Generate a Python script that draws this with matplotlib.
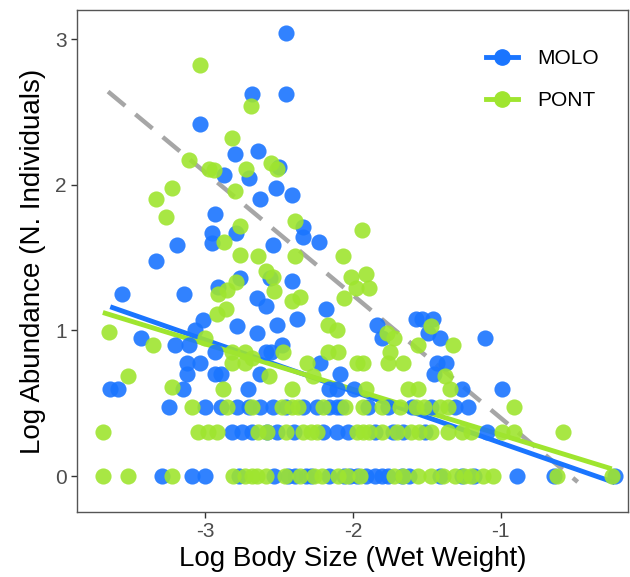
import numpy as np
import matplotlib
matplotlib.use("Agg")
import matplotlib.pyplot as plt
from matplotlib.lines import Line2D

plt.rcParams["font.family"] = ["Liberation Sans", "DejaVu Sans"]
plt.rcParams["axes.unicode_minus"] = False

# MOLO points (log body size, log abundance)
molo_x = [-2.45, -2.45, -2.68, -3.03, -2.80, -2.64, -2.50, -2.87, -2.70, -2.52,
          -2.41, -2.63, -2.93, -2.95, -2.95, -2.79, -2.34, -2.34, -2.23, -2.54,
          -3.19, -3.33, -3.56, -3.14, -2.91, -2.76, -2.65, -2.59, -3.01, -3.07,
          -3.43, -3.20, -3.11, -2.78, -2.65, -2.93, -3.12, -3.03, -2.59, -2.55,
          -3.64, -3.59, -3.12, -3.15, -2.93, -2.89, -2.71, -2.51, -2.48, -2.63,
          -2.56, -2.41, -2.38, -2.18, -2.22, -2.09, -2.16, -2.11, -1.99, -1.84,
          -1.80, -1.57, -1.53, -1.46, -1.49, -1.41, -1.43, -1.37, -1.45, -1.11,
          -1.26, -0.99,
          -3.24, -3.00, -2.89, -2.78, -2.63, -2.54, -2.34, -2.24, -2.16, -2.11,
          -2.08, -1.76, -1.60, -1.47, -1.31, -1.22, -2.70, -2.45, -1.90,
          -2.82, -2.75, -2.68, -2.51, -2.20, -2.11, -2.03, -1.73, -1.51, -1.09,
          -2.58, -2.40, -1.85, -1.66,
          -3.29, -3.09, -3.00, -2.53, -2.39, -2.32, -2.16, -2.02, -1.97, -1.91,
          -1.85, -1.80, -1.76, -1.67, -1.26, -0.89, -0.64, -0.23, -2.77, -2.44,
          -2.28, -2.06, -1.62, -1.41, -1.18]
molo_y = [3.04, 2.62, 2.62, 2.42, 2.21, 2.23, 2.12, 2.07, 2.05, 1.98,
          1.93, 1.90, 1.80, 1.67, 1.60, 1.67, 1.71, 1.64, 1.61, 1.59,
          1.59, 1.48, 1.25, 1.25, 1.30, 1.36, 1.22, 1.17, 1.07, 1.00,
          0.95, 0.90, 0.90, 1.03, 0.98, 0.85, 0.78, 0.78, 0.85, 0.85,
          0.60, 0.60, 0.70, 0.60, 0.70, 0.70, 0.60, 1.04, 0.90, 0.70,
          1.36, 1.34, 1.08, 1.15, 0.78, 0.70, 0.60, 0.60, 0.60, 1.04,
          0.95, 1.08, 1.08, 1.08, 0.98, 0.95, 0.78, 0.78, 0.70, 0.95,
          0.60, 0.60,
          0.477, 0.477, 0.477, 0.477, 0.477, 0.477, 0.477, 0.477, 0.477, 0.477,
          0.477, 0.477, 0.477, 0.477, 0.477, 0.477, 0.477, 0.477, 0.477,
          0.301, 0.301, 0.301, 0.301, 0.301, 0.301, 0.301, 0.301, 0.301, 0.301,
          0.301, 0.301, 0.301, 0.301,
          0, 0, 0, 0, 0, 0, 0, 0, 0, 0,
          0, 0, 0, 0, 0, 0, 0, 0, 0, 0,
          0, 0, 0, 0, 0]

# PONT points
pont_x = [-3.03, -2.69, -2.82, -3.11, -2.97, -2.94, -2.72, -2.55, -2.51, -2.80,
          -3.22, -3.33, -3.26, -2.39, -2.76, -2.87, -2.76, -2.64, -2.39, -2.07,
          -1.94, -2.59, -2.54, -2.53, -2.41, -2.36, -2.01, -1.91, -1.98, -1.89,
          -2.06, -3.65, -3.52, -3.35, -3.22, -3.00, -2.92, -2.86, -2.91, -2.85,
          -2.79, -2.82, -2.73, -2.82, -2.73, -2.68, -2.57, -2.47, -2.41, -2.31,
          -2.27, -2.17, -2.11, -2.17, -2.10, -1.97, -1.93, -2.88, -1.77, -1.72,
          -1.56, -1.47, -1.75, -1.76, -1.66, -1.32, -1.38, -1.91, -1.63, -1.56,
          -1.34,
          -3.09, -2.68, -2.48, -2.41, -2.37, -2.05, -1.93, -1.68, -1.57, -1.41,
          -1.36, -0.91, -2.85, -2.20, -1.80, -1.52,
          -3.69, -3.05, -2.98, -2.92, -2.58, -2.45, -2.28, -1.97, -1.93, -1.89,
          -1.80, -1.61, -1.55, -1.47, -1.36, -1.20, -0.99, -0.91, -0.58, -2.64,
          -2.34, -2.24, -1.70, -1.26,
          -3.69, -3.52, -3.22, -2.81, -2.73, -2.65, -2.59, -2.46, -2.26, -2.21,
          -2.10, -1.56, -1.47, -1.39, -1.31, -1.12, -1.05, -0.62, -0.25, -2.68,
          -2.36, -2.04, -1.95, -1.72, -1.66, -1.25, -1.20]
pont_y = [2.82, 2.54, 2.32, 2.17, 2.11, 2.10, 2.11, 2.15, 2.11, 1.96,
          1.98, 1.90, 1.78, 1.75, 1.72, 1.61, 1.52, 1.51, 1.51, 1.51,
          1.69, 1.41, 1.37, 1.27, 1.20, 1.23, 1.37, 1.39, 1.29, 1.29,
          1.22, 0.99, 0.69, 0.90, 0.61, 0.95, 1.11, 1.15, 1.25, 1.28,
          1.33, 0.85, 0.85, 0.78, 0.78, 0.81, 0.69, 0.85, 0.60, 0.78,
          0.69, 1.04, 1.00, 0.85, 0.85, 0.78, 0.78, 0.60, 0.98, 0.95,
          0.90, 1.03, 0.85, 0.78, 0.78, 0.90, 0.69, 0.60, 0.60, 0.60,
          0.60,
          0.477, 0.477, 0.477, 0.477, 0.477, 0.477, 0.477, 0.477, 0.477, 0.477,
          0.477, 0.477, 0.477, 0.477, 0.477, 0.477,
          0.301, 0.301, 0.301, 0.301, 0.301, 0.301, 0.301, 0.301, 0.301, 0.301,
          0.301, 0.301, 0.301, 0.301, 0.301, 0.301, 0.301, 0.301, 0.301, 0.301,
          0.301, 0.301, 0.301, 0.301,
          0, 0, 0, 0, 0, 0, 0, 0, 0, 0,
          0, 0, 0, 0, 0, 0, 0, 0, 0, 0,
          0, 0, 0, 0, 0, 0, 0]

# fitted lines: intercept, slope
molo_fit = [-0.126, -0.354]
pont_fit = [-0.028, -0.312]
ref_fit = [-0.445, -0.844]
ref_range = [-3.655, -0.48]

molo_col = "#1a75ff"
pont_col = "#9fe52f"

fig = plt.figure(figsize=(6.3, 5.77), dpi=100)
ax = fig.add_axes([0.1222, 0.1127, 0.8746, 0.870])

# grey reference line
xr = np.array(ref_range)
ax.plot(xr, ref_fit[0] + ref_fit[1] * xr, color="#a6a6a6", lw=3.2,
        dashes=(5, 3), zorder=1)

# regression lines over each data range
for xs, fit, col in [(molo_x, molo_fit, molo_col), (pont_x, pont_fit, pont_col)]:
    xl = np.array([min(xs), max(xs)])
    ax.plot(xl, fit[0] + fit[1] * xl, color=col, lw=3.5, zorder=2,
            solid_capstyle="butt")

ax.scatter(molo_x, molo_y, s=135, color=molo_col, alpha=0.9, lw=0, zorder=3)
ax.scatter(pont_x, pont_y, s=135, color=pont_col, alpha=0.9, lw=0, zorder=3)

ax.set_xlim(-3.865, -0.14)
ax.set_ylim(-0.246, 3.2)
ax.set_xticks([-3, -2, -1])
ax.set_yticks([0, 1, 2, 3])
ax.tick_params(labelsize=15, labelcolor="#4d4d4d", color="#333333",
               length=4, width=1)
for sp in ax.spines.values():
    sp.set_color("#555555")
    sp.set_linewidth(1)

ax.set_xlabel("Log Body Size (Wet Weight)", fontsize=20, labelpad=3)
ax.set_ylabel("Log Abundance (N. Individuals)", fontsize=20, labelpad=6)

handles = [Line2D([], [], color=molo_col, lw=3.5, marker="o", markersize=11),
           Line2D([], [], color=pont_col, lw=3.5, marker="o", markersize=11)]
ax.legend(handles, ["MOLO", "PONT"], loc="upper left", frameon=False,
          fontsize=15, handlelength=1.55, handletextpad=0.9, labelspacing=1.1,
          borderpad=0, borderaxespad=0, bbox_to_anchor=(0.742, 0.922))

fig.savefig("out.png", dpi=100)
